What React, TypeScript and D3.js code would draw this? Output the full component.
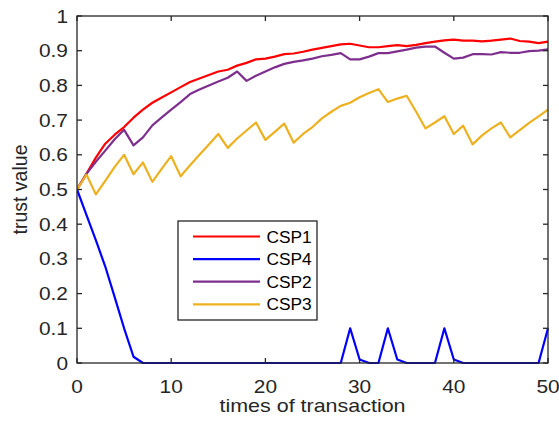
import React from "react";
import * as d3 from "d3";

// x = times of transaction, 0..50
const xs = d3.range(0, 51);

const csp1 = [
  0.5, 0.545, 0.592, 0.632, 0.658, 0.68, 0.707, 0.73, 0.75, 0.765,
  0.78, 0.795, 0.81, 0.82, 0.83, 0.84, 0.845, 0.857, 0.865, 0.875,
  0.877, 0.883, 0.89, 0.892, 0.897, 0.903, 0.908, 0.913, 0.918, 0.92,
  0.915, 0.91, 0.91, 0.913, 0.916, 0.913, 0.917, 0.922, 0.926, 0.93,
  0.932, 0.929, 0.929, 0.927, 0.929, 0.932, 0.935, 0.928, 0.926, 0.922,
  0.926,
];

const csp4 = [
  0.5, 0.427, 0.354, 0.278, 0.19, 0.1, 0.018, 0, 0, 0,
  0, 0, 0, 0, 0, 0, 0, 0, 0, 0,
  0, 0, 0, 0, 0, 0, 0, 0, 0, 0.1,
  0.01, 0, 0, 0.1, 0.01, 0, 0, 0, 0, 0.1,
  0.01, 0, 0, 0, 0, 0, 0, 0, 0, 0,
  0.1,
];

const csp2 = [
  0.5, 0.545, 0.58, 0.612, 0.645, 0.672, 0.627, 0.65, 0.685, 0.708,
  0.73, 0.752, 0.775, 0.788, 0.8, 0.811, 0.822, 0.84, 0.813, 0.828,
  0.84, 0.852, 0.862, 0.868, 0.872, 0.877, 0.884, 0.888, 0.893, 0.875,
  0.875, 0.883, 0.893, 0.893, 0.898, 0.903, 0.909, 0.912, 0.912, 0.894,
  0.877, 0.88, 0.89, 0.89, 0.889, 0.896, 0.894, 0.894, 0.899, 0.9,
  0.904,
];

const csp3 = [
  0.5, 0.543, 0.486, 0.525, 0.565, 0.6, 0.544, 0.578, 0.522, 0.56,
  0.596, 0.538, 0.57, 0.6, 0.63, 0.66, 0.62, 0.647, 0.67, 0.693,
  0.643, 0.666, 0.69, 0.635, 0.66, 0.68, 0.705, 0.724, 0.741, 0.75,
  0.766, 0.778, 0.789, 0.752, 0.762, 0.77, 0.724, 0.676, 0.693, 0.711,
  0.66, 0.684, 0.63, 0.656, 0.676, 0.693, 0.65, 0.671, 0.692, 0.711,
  0.73,
];

const seriesNames = ["CSP1", "CSP4", "CSP2", "CSP3"];
const seriesValues = [csp1, csp4, csp2, csp3];
const seriesColors = ["#ff0000", "#0000ff", "#7e2f8e", "#edb120"];

const xTicks = [0, 10, 20, 30, 40, 50];
const yTicks = [0, 0.1, 0.2, 0.3, 0.4, 0.5, 0.6, 0.7, 0.8, 0.9, 1];

const W = 559;
const H = 426;
const plot = { left: 77, right: 548, top: 16, bottom: 363 };
const axisColor = "#262626";
const font = "'Liberation Sans', Arial, sans-serif";
const stretch = 1.13;

export default function App() {
  const x = d3.scaleLinear().domain([0, 50]).range([plot.left, plot.right]);
  const y = d3.scaleLinear().domain([0, 1]).range([plot.bottom, plot.top]);
  const line = d3
    .line<[number, number]>()
    .x((d) => x(d[0]))
    .y((d) => y(d[1]));

  const tl = 5; // tick length, MATLAB style inward ticks on all four sides

  return (
    <svg
      width={W}
      height={H}
      style={{ position: "absolute", left: 0, top: 0, background: "#fff" }}
      fontFamily={font}
    >
      <rect x={0} y={0} width={W} height={H} fill="#fff" />
      <defs>
        <clipPath id="plotclip">
          <rect
            x={plot.left}
            y={plot.top - 2}
            width={plot.right - plot.left + 2}
            height={plot.bottom - plot.top + 4}
          />
        </clipPath>
      </defs>

      {/* series */}
      <g clipPath="url(#plotclip)">
        {seriesValues.map((vals, i) => (
          <path
            key={seriesNames[i]}
            d={line(xs.map((t, j) => [t, vals[j]]) as [number, number][]) || ""}
            fill="none"
            stroke={seriesColors[i]}
            strokeWidth={2.2}
            strokeLinejoin="round"
          />
        ))}
      </g>

      {/* box + ticks */}
      <rect
        x={plot.left}
        y={plot.top}
        width={plot.right - plot.left}
        height={plot.bottom - plot.top}
        fill="none"
        stroke={axisColor}
        strokeWidth={1.3}
      />
      {xTicks.map((t) => (
        <g key={"xt" + t} stroke={axisColor} strokeWidth={1.3}>
          <line x1={x(t)} x2={x(t)} y1={plot.bottom} y2={plot.bottom - tl} />
          <line x1={x(t)} x2={x(t)} y1={plot.top} y2={plot.top + tl} />
        </g>
      ))}
      {yTicks.map((t) => (
        <g key={"yt" + t} stroke={axisColor} strokeWidth={1.3}>
          <line x1={plot.left} x2={plot.left + tl} y1={y(t)} y2={y(t)} />
          <line x1={plot.right} x2={plot.right - tl} y1={y(t)} y2={y(t)} />
        </g>
      ))}

      {/* tick labels */}
      {xTicks.map((t) => (
        <text
          key={"xl" + t}
          transform={`translate(${x(t)},${plot.bottom + 30}) scale(${stretch},1)`}
          textAnchor="middle"
          fontSize={18.5}
          fill={axisColor}
        >
          {t}
        </text>
      ))}
      {yTicks.map((t) => (
        <text
          key={"yl" + t}
          transform={`translate(${plot.left - 9},${y(t) + 6.5}) scale(${stretch},1)`}
          textAnchor="end"
          fontSize={18.5}
          fill={axisColor}
        >
          {d3.format("~g")(t)}
        </text>
      ))}

      {/* axis titles */}
      <text
        transform={`translate(${(plot.left + plot.right) / 2},${plot.bottom + 49}) scale(${stretch},1)`}
        textAnchor="middle"
        fontSize={19}
        fill={axisColor}
      >
        times of transaction
      </text>
      <text
        transform={`translate(27,${(plot.top + plot.bottom) / 2}) rotate(-90)`}
        textAnchor="middle"
        fontSize={19.5}
        fill={axisColor}
      >
        trust value
      </text>

      {/* legend */}
      <g transform="translate(178,221)">
        <rect x={0} y={0} width={139} height={99} fill="#fff" stroke={axisColor} strokeWidth={1.3} />
        {seriesNames.map((name, i) => (
          <g key={"lg" + name} transform={`translate(0,${15.5 + i * 22.6})`}>
            <line x1={15} x2={82} y1={0} y2={0} stroke={seriesColors[i]} strokeWidth={2.2} />
            <text
              transform={`translate(88.5,6) scale(1.05,1)`}
              fontSize={16.5}
              fill="#000"
            >
              {name}
            </text>
          </g>
        ))}
      </g>
    </svg>
  );
}
